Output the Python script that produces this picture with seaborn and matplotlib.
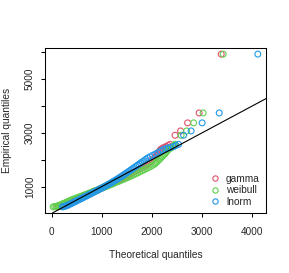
import matplotlib
matplotlib.use("Agg")
import matplotlib.pyplot as plt
from matplotlib.lines import Line2D
import numpy as np
import pandas as pd
import seaborn as sns

# empirical quantiles (sorted sample), shared by the three fits
empirical = [242, 255, 263, 281, 302, 318, 347, 371, 392, 420,
             446, 468, 497, 522, 549, 575, 601, 628, 655, 684,
             708, 737, 765, 791, 823, 850, 874, 905, 931, 960,
             988, 1016, 1047, 1073, 1102, 1135, 1168, 1196, 1231, 1263,
             1297, 1330, 1368, 1402, 1439, 1476, 1512, 1553, 1590, 1628,
             1667, 1705, 1748, 1790, 1832, 1877, 1921, 1968, 2015, 2062,
             2108, 2157, 2205, 2260, 2318, 2372, 2410, 2436, 2458, 2490,
             2530, 2570, 2910, 3070, 3370, 3740, 5930]

theo_gamma = [100, 136, 168, 198, 228, 256, 285, 313, 342, 370,
              398, 426, 454, 484, 516, 549, 582, 615, 648, 681,
              714, 748, 782, 816, 850, 884, 918, 952, 985, 1018,
              1052, 1086, 1120, 1154, 1188, 1222, 1257, 1292, 1328, 1364,
              1400, 1436, 1472, 1508, 1545, 1582, 1620, 1658, 1696, 1734,
              1772, 1810, 1848, 1882, 1916, 1943, 1970, 1997, 2025, 2052,
              2070, 2090, 2110, 2130, 2150, 2170, 2195, 2220, 2250, 2280,
              2320, 2360, 2460, 2570, 2710, 2940, 3380]
theo_weibull = [30, 60, 90, 120, 150, 180, 210, 240, 270, 300,
                330, 360, 390, 420, 458, 496, 534, 572, 610, 648,
                686, 724, 762, 800, 838, 876, 914, 952, 990, 1028,
                1066, 1104, 1142, 1180, 1218, 1256, 1298, 1340, 1382, 1424,
                1466, 1508, 1550, 1592, 1634, 1676, 1718, 1760, 1802, 1844,
                1886, 1928, 1970, 2010, 2050, 2075, 2100, 2125, 2150, 2175,
                2200, 2225, 2250, 2275, 2300, 2325, 2350, 2375, 2400, 2425,
                2440, 2455, 2580, 2690, 2830, 3020, 3420]
theo_lnorm = [215, 240, 262, 288, 315, 338, 368, 394, 418, 447,
              474, 498, 529, 556, 585, 613, 641, 670, 699, 730,
              756, 786, 815, 842, 875, 903, 928, 960, 986, 1015,
              1042, 1069, 1099, 1123, 1150, 1181, 1211, 1236, 1268, 1296,
              1325, 1352, 1384, 1411, 1441, 1470, 1498, 1530, 1558, 1587,
              1617, 1646, 1679, 1710, 1741, 1775, 1808, 1843, 1878, 1915,
              1960, 2010, 2060, 2115, 2170, 2220, 2270, 2320, 2375, 2430,
              2480, 2530, 2630, 2780, 3000, 3340, 4110]

dist_names = ["gamma", "weibull", "lnorm"]
dist_colors = ["#DF536B", "#61D04F", "#2297E6"]
x_ticks = [0, 1000, 2000, 3000, 4000]
y_ticks = [1000, 2000, 3000, 4000, 5000, 6000]
y_tick_labels = ["1000", "", "3000", "", "5000", ""]

df = pd.concat([pd.DataFrame({"Theoretical": t, "Empirical": empirical, "dist": n})
                for n, t in zip(dist_names, [theo_gamma, theo_weibull, theo_lnorm])],
               ignore_index=True)

sns.set_style("white")
plt.rcParams["font.family"] = ["Liberation Sans", "DejaVu Sans"]

fig = plt.figure(figsize=(2.89, 2.73), dpi=100)
ax = fig.add_axes([45 / 289, 60 / 273, 221 / 289, 165 / 273])

sns.scatterplot(data=df, x="Theoretical", y="Empirical", hue="dist",
                palette=dict(zip(dist_names, dist_colors)), s=18,
                linewidth=0.8, legend=False, ax=ax)
coll = ax.collections[0]
coll.set_edgecolors(coll.get_facecolors())
coll.set_facecolors("none")

ax.axline((0, 0), slope=1, color="black", lw=0.8)

# R style 4% range expansion
xr = df["Theoretical"].min(), df["Theoretical"].max()
yr = df["Empirical"].min(), df["Empirical"].max()
ax.set_xlim(xr[0] - 0.04 * (xr[1] - xr[0]), xr[1] + 0.04 * (xr[1] - xr[0]))
ax.set_ylim(yr[0] - 0.04 * (yr[1] - yr[0]), yr[1] + 0.04 * (yr[1] - yr[0]))

ax.set_xticks(x_ticks)
ax.set_xticklabels([str(v) for v in x_ticks], fontsize=7.2)
ax.set_yticks(y_ticks)
ax.set_yticklabels(y_tick_labels, fontsize=7.2, rotation=90, va="center")
ax.tick_params(direction="out", length=3.2, width=0.75, color="black",
               bottom=True, left=True)
ax.tick_params(axis="x", pad=7)
ax.tick_params(axis="y", pad=4)
for sp in ax.spines.values():
    sp.set_color("black")
    sp.set_linewidth(0.75)

ax.set_xlabel("Theoretical quantiles", fontsize=7.3)
ax.set_ylabel("Empirical quantiles", fontsize=7.3)
ax.xaxis.set_label_coords(0.5, -(255 - 213) / 165)
ax.xaxis.label.set_va("center")
ax.yaxis.set_label_coords(-(45 - 6.5) / 221, 0.5)
ax.yaxis.label.set_va("center")

handles = [Line2D([], [], ls="", marker="o", ms=3.8, mfc="none", mec=c, mew=0.8)
           for c in dist_colors]
ax.legend(handles, dist_names, loc="lower right", frameon=False, fontsize=7.3,
          handlelength=0.8, handletextpad=0.7, labelspacing=0.15,
          borderaxespad=0.2, borderpad=0.4)

fig.savefig("out.png", dpi=100)
